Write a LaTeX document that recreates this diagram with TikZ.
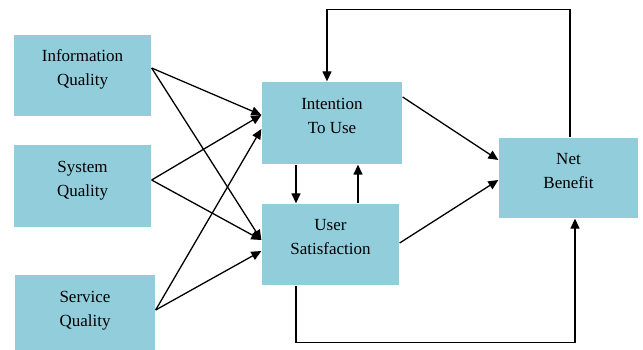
\documentclass[tikz,border=0pt]{standalone}
\usepackage{fontspec}
\setmainfont{Liberation Serif}
\usetikzlibrary{arrows.meta}

\definecolor{boxblue}{RGB}{146,205,220}

\begin{document}
\begin{tikzpicture}[x=1pt,y=-1pt,>={Triangle[length=10pt,width=9pt]},
                    line width=1.3pt,
                    box/.style={fill=boxblue,draw=none,align=center,text depth=15pt,
                      font=\fontsize{17}{24}\selectfont}]
  \useasboundingbox (0,0) rectangle (643,350);

  \node[box,minimum width=137,minimum height=81] (iq)  at (82.5,75.5) {Information\\Quality};
  \node[box,minimum width=137,minimum height=82] (sq)  at (82.5,186)  {System\\Quality};
  \node[box,minimum width=140,minimum height=82] (svq) at (85,316)    {Service\\Quality};
  \node[box,minimum width=140,minimum height=82] (iu)  at (332,123)   {Intention\\To Use};
  \node[box,minimum width=137,minimum height=81] (us)  at (330.5,244.5) {User\\Satisfaction};
  \node[box,minimum width=139,minimum height=80] (nb)  at (568.5,178) {Net\\Benefit};

  % quality boxes into use and satisfaction
  \draw[->] ([yshift=7.5pt]iq.east) -- ([yshift=8pt]iu.west);
  \draw[->] ([yshift=7.5pt]iq.east) -- ([yshift=4.5pt]us.west);
  \draw[->] ([yshift=6pt]sq.east)   -- ([yshift=8pt]iu.west);
  \draw[->] ([yshift=6pt]sq.east)   -- ([yshift=4.5pt]us.west);
  \draw[->] ([yshift=6pt]svq.east)  -- ([yshift=-6pt]iu.west);
  \draw[->] ([yshift=6pt]svq.east)  -- ([yshift=-6.5pt]us.west);

  % between use and satisfaction
  \draw[->] ([xshift=-36pt]iu.south) -- ([xshift=-36pt]iu.south |- us.north);
  \draw[->] ([xshift=27.5pt]us.north) -- ([xshift=27.5pt]us.north |- iu.south);

  % into net benefit
  \draw[->] ([yshift=26pt]iu.east)  -- ([yshift=18pt]nb.west);
  \draw[->] ([yshift=1.5pt]us.east) -- ([yshift=-2pt]nb.west);

  % feedback loops
  \draw[->] ([xshift=1.5pt]nb.north) -- ++(0,-128) -| ([xshift=-5pt]iu.north);
  \draw[->] ([xshift=-34.5pt]us.south) -- ++(0,57) -| ([xshift=6.5pt]nb.south);
\end{tikzpicture}
\end{document}
